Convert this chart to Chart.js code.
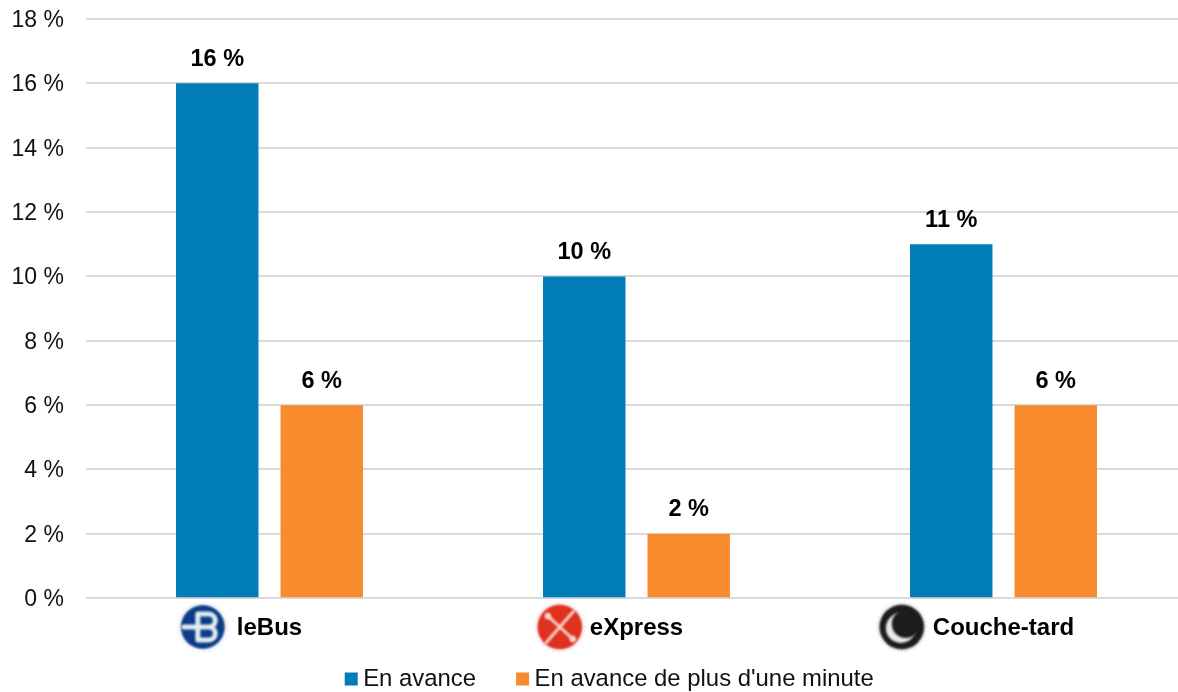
<!DOCTYPE html>
<html><head><meta charset="utf-8">
<style>html,body{margin:0;padding:0;background:#fff;width:1178px;height:692px;overflow:hidden}
#wrap{position:relative;width:1178px;height:692px;overflow:hidden}
#wrap canvas{display:block}</style>
<script src="https://cdn.jsdelivr.net/npm/chart.js@4"></script>
</head><body><div id="wrap"><canvas id="c" width="1187" height="729" style="width:1187px;height:729px"></canvas></div>
<script>
const categories = ["leBus", "eXpress", "Couche-tard"];
const seriesNames = ["En avance", "En avance de plus d'une minute"];
const enAvance = [16, 10, 11];
const enAvanceMinute = [6, 2, 6];
const FONT = '"Liberation Sans", Arial, sans-serif';

const valueLabels = {
  id: 'valueLabels',
  afterDatasetsDraw(chart) {
    const ctx = chart.ctx;
    ctx.save();
    ctx.font = 'bold 23.5px ' + FONT;
    ctx.fillStyle = '#000';
    ctx.textAlign = 'center';
    ctx.textBaseline = 'middle';
    chart.data.datasets.forEach((ds, i) => {
      chart.getDatasetMeta(i).data.forEach((bar, j) => {
        ctx.fillText(ds.data[j] + ' %', bar.x, bar.y - 24);
      });
    });
    ctx.restore();
  }
};

function logoBus(ctx, x, y) {
  ctx.fillStyle = '#0b3c85';
  ctx.beginPath(); ctx.arc(x, y, 22, 0, Math.PI * 2); ctx.fill();
  ctx.strokeStyle = '#e4ecf4'; ctx.lineWidth = 5; ctx.lineCap = 'round';
  ctx.beginPath();
  ctx.moveTo(x - 19, y); ctx.lineTo(x + 6, y);
  ctx.moveTo(x - 5, y - 13); ctx.lineTo(x + 6, y - 13);
  ctx.arc(x + 6, y - 6.5, 6.5, -Math.PI / 2, Math.PI / 2);
  ctx.arc(x + 6, y + 6.5, 6.5, -Math.PI / 2, Math.PI / 2);
  ctx.lineTo(x - 5, y + 13);
  ctx.moveTo(x - 5, y - 13); ctx.lineTo(x - 5, y + 13);
  ctx.stroke();
}
function logoExpress(ctx, x, y) {
  ctx.fillStyle = '#e0301e';
  ctx.beginPath(); ctx.arc(x, y, 22.5, 0, Math.PI * 2); ctx.fill();
  ctx.strokeStyle = '#f6d5cf'; ctx.lineWidth = 3; ctx.lineCap = 'round';
  ctx.beginPath();
  ctx.moveTo(x - 12, y - 11); ctx.lineTo(x + 13, y + 12);
  ctx.moveTo(x + 14, y - 16); ctx.lineTo(x - 14, y + 16);
  ctx.stroke();
  ctx.fillStyle = '#f6d5cf';
  [[-12, -11], [13, 12]].forEach(p => { ctx.beginPath(); ctx.arc(x + p[0], y + p[1], 3.2, 0, Math.PI * 2); ctx.fill(); });
}
function logoMoon(ctx, x, y) {
  ctx.fillStyle = '#1c1c1c';
  ctx.beginPath(); ctx.arc(x, y, 22.5, 0, Math.PI * 2); ctx.fill();
  ctx.fillStyle = '#e8e8e8';
  ctx.beginPath(); ctx.arc(x - 1, y + 1, 15, 0, Math.PI * 2); ctx.fill();
  ctx.fillStyle = '#1c1c1c';
  ctx.beginPath(); ctx.arc(x + 4, y - 3, 14, 0, Math.PI * 2); ctx.fill();
}
const logos = [logoBus, logoExpress, logoMoon];
const logoGaps = [34, 30, 31];

const categoryLogos = {
  id: 'categoryLogos',
  afterDraw(chart) {
    const ctx = chart.ctx, sx = chart.scales.x;
    const y = 627;
    categories.forEach((name, i) => {
      ctx.save();
      ctx.font = 'bold 24px ' + FONT;
      const left = sx.getPixelForValue(i) - ctx.measureText(name).width / 2;
      const cx = left - logoGaps[i];
      ctx.strokeStyle = '#d8dde2'; ctx.lineWidth = 1; ctx.setLineDash([1.5, 2]);
      ctx.beginPath(); ctx.arc(cx, y, 25, 0, Math.PI * 2); ctx.stroke();
      ctx.setLineDash([]);
      ctx.filter = 'blur(0.8px)';
      logos[i](ctx, cx, y);
      ctx.restore();
    });
  }
};

const legendShift = {
  id: 'legendShift',
  afterLayout(chart) {
    const l = chart.legend;
    l.left += 19; l.right += 19;
    l.top -= 27.6; l.bottom -= 27.6;
    l.adjustHitBoxes();
  }
};

new Chart(document.getElementById('c'), {
  type: 'bar',
  data: {
    labels: categories,
    datasets: [
      { label: seriesNames[0], data: enAvance, backgroundColor: '#007DB8', borderWidth: 0,
        barPercentage: 0.789, categoryPercentage: 0.5695 },
      { label: seriesNames[1], data: enAvanceMinute, backgroundColor: '#F78B2E', borderWidth: 0,
        barPercentage: 0.789, categoryPercentage: 0.5695 }
    ]
  },
  options: {
    responsive: false,
    animation: false,
    devicePixelRatio: 1,
    layout: { autoPadding: false, padding: { top: 19, left: 0, right: 0, bottom: 0.4 } },
    plugins: {
      tooltip: { enabled: false },
      title: { display: false },
      legend: {
        position: 'bottom',
        labels: {
          color: '#111',
          font: { family: FONT, size: 23.9 },
          usePointStyle: true,
          pointStyle: 'rect',
          boxWidth: 0.01,
          boxHeight: 13,
          padding: 46.5
        }
      }
    },
    scales: {
      x: {
        grid: { display: false },
        border: { display: false },
        ticks: { color: '#000', font: { family: FONT, size: 24, weight: 'bold' }, padding: 7.6, maxRotation: 0 },
        afterFit(s) { s.height = 50; }
      },
      y: {
        min: 0, max: 18,
        grid: { color: '#d9d9d9', lineWidth: 2, drawTicks: false },
        border: { display: false },
        ticks: { stepSize: 2, color: '#111', font: { family: FONT, size: 23 }, padding: 22, labelOffset: 1.5,
                 callback: v => v + ' %' },
        afterFit(s) { s.width = 86; s.paddingTop = 0; s.paddingBottom = 0; }
      }
    }
  },
  plugins: [legendShift, valueLabels, categoryLogos]
});
</script></body></html>
